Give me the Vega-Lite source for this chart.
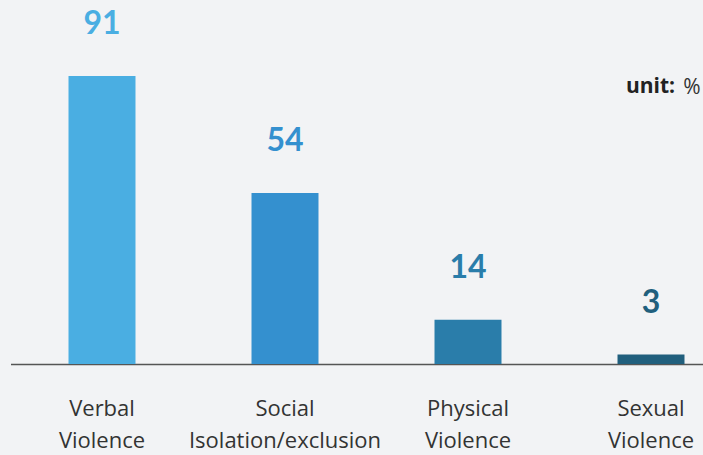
{
  "$schema": "https://vega.github.io/schema/vega-lite/v6.json",
  "width": 703,
  "height": 455,
  "autosize": "none",
  "padding": 0,
  "background": "#f2f3f5",
  "config": {
    "view": {"stroke": null},
    "font": "Lato"
  },
  "title": {
    "text": "unit:",
    "anchor": "end",
    "frame": "group",
    "orient": "top",
    "offset": -97,
    "dx": -28,
    "fontSize": 21,
    "fontWeight": "bold",
    "color": "#222222",
    "font": "Open Sans"
  },
  "data": {
    "values": [
      {"type": "Verbal Violence", "label": "Verbal|Violence", "value": 91},
      {"type": "Social Isolation/exclusion", "label": "Social|Isolation/exclusion", "value": 54},
      {"type": "Physical Violence", "label": "Physical|Violence", "value": 14},
      {"type": "Sexual Violence", "label": "Sexual|Violence", "value": 3}
    ]
  },
  "encoding": {
    "x": {
      "field": "label",
      "type": "nominal",
      "sort": null,
      "scale": {"range": [10.5, 742.5], "paddingInner": 0.634, "paddingOuter": 0.317},
      "axis": {
        "title": null,
        "offset": -91,
        "domainColor": "#555555",
        "domainWidth": 1.5,
        "ticks": false,
        "labelAngle": 0,
        "labelExpr": "split(datum.label, '|')",
        "labelFont": "Open Sans",
        "labelFontSize": 22,
        "labelColor": "#333333",
        "labelPadding": 51,
        "labelLineHeight": 32,
        "labelLimit": 0,
        "labelBaseline": "alphabetic"
      }
    },
    "y": {
      "field": "value",
      "type": "quantitative",
      "scale": {"domain": [0, 115], "range": [364, 0]},
      "axis": {
        "orient": "right",
        "domain": false,
        "ticks": false,
        "labels": false,
        "grid": false,
        "title": "%",
        "titleAngle": 0,
        "titleAlign": "right",
        "titleBaseline": "alphabetic",
        "titleX": -3,
        "titleY": 93,
        "titleFont": "Open Sans",
        "titleFontSize": 21,
        "titleFontWeight": "normal",
        "titleColor": "#333333"
      }
    }
  },
  "layer": [
    {
      "mark": {"type": "bar"},
      "encoding": {
        "color": {
          "field": "type",
          "type": "nominal",
          "legend": null,
          "scale": {
            "domain": ["Verbal Violence", "Social Isolation/exclusion", "Physical Violence", "Sexual Violence"],
            "range": ["#4aaee2", "#3490cf", "#2a7daa", "#215f7d"]
          }
        }
      }
    },
    {
      "mark": {"type": "text", "dy": -42, "baseline": "alphabetic", "fontSize": 32, "fontWeight": "bold"},
      "encoding": {
        "text": {"field": "value", "type": "quantitative"},
        "color": {
          "field": "type",
          "type": "nominal",
          "legend": null,
          "scale": {
            "domain": ["Verbal Violence", "Social Isolation/exclusion", "Physical Violence", "Sexual Violence"],
            "range": ["#3a96d8", "#3490cf", "#2a7daa", "#235f80"]
          }
        }
      }
    }
  ]
}
